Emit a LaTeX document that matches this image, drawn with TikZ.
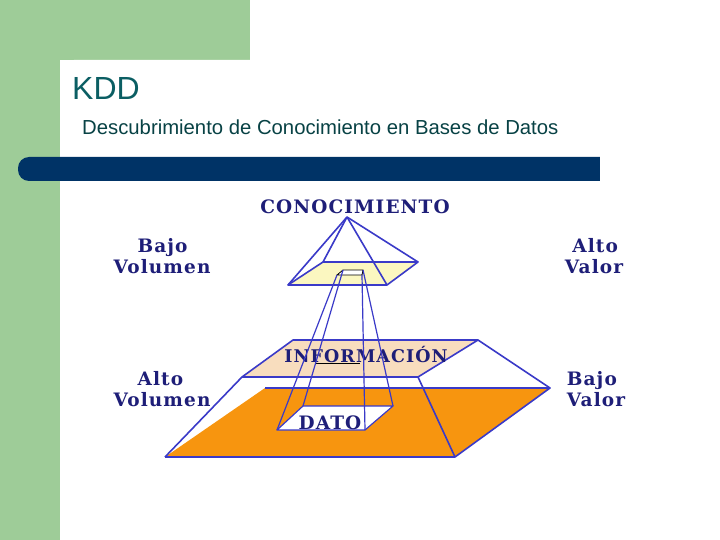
\documentclass[tikz,border=0pt]{standalone}
\usepackage{fontspec}
\setmainfont{Liberation Serif}
\newfontfamily\arialfont{Liberation Sans}
\newfontfamily\labelfont[LetterSpace=6]{DejaVu Serif}
\definecolor{slidegreen}{HTML}{9ECC98}
\definecolor{barblue}{HTML}{003366}
\definecolor{titleteal}{HTML}{0B5E63}
\definecolor{edgeblue}{HTML}{3A3AC8}
\definecolor{labelnavy}{HTML}{1E1E78}
\definecolor{infopeach}{HTML}{F8DDBE}
\definecolor{datoorange}{HTML}{F7950F}
\definecolor{topyellow}{HTML}{FBF7C0}
\tikzset{
  edge/.style={edgeblue, line width=1.6pt, line join=round},
  lbl/.style={labelnavy, font=\labelfont\bfseries\fontsize{18.5}{21}\selectfont, align=left},
  every node/.style={inner sep=0pt}
}
\begin{document}
\begin{tikzpicture}[x=1pt,y=-1pt]
    \useasboundingbox (0,0) rectangle (720,540);
    \fill[slidegreen] (0,0) rectangle (250,60);
    \fill[slidegreen] (0,0) rectangle (60,540);
    \fill[white, rounded corners=14pt] (60,60) rectangle (760,600);
    \node[titleteal, anchor=west, font=\arialfont\fontsize{32}{34}\selectfont] (kdd) at (72,88) {KDD};
    \node[titleteal!70!black, anchor=west, font=\arialfont\fontsize{20.3}{22}\selectfont] (sub) at (82,127)
      {Descubrimiento de Conocimiento en Bases de Datos};
    \fill[barblue, rounded corners=11pt] (18,157) rectangle (640,181);
    \fill[barblue] (560,157) rectangle (600,181);
    \fill[white] (600,150) rectangle (660,190);

    % lower pyramid
    \fill[datoorange] (165,457) -- (455,457) -- (550,388) -- (265,388) -- cycle;
    \fill[infopeach] (242,377) -- (418,377) -- (478,340) -- (293,340) -- cycle;
    \draw[edge] (265,388) -- (550,388);
    \draw[edge] (165,457) -- (455,457) -- (550,388) -- (478,340);
    \draw[edge] (242,377) -- (418,377) -- (478,340) -- (293,340) -- cycle;
    \draw[edge] (242,377) -- (165,457);
    \draw[edge] (418,377) -- (455,457);
    \node[lbl, font=\labelfont\bfseries\fontsize{17.5}{20}\selectfont] (info) at (366,355) {INFORMACIÓN};
    \draw[thick] (315,363) -- (360,363);
    % dato plane
    \fill[white] (277,430) -- (365,430) -- (393,406) -- (303,406) -- cycle;
    \draw[edge, line width=1.2pt] (277,430) -- (365,430) -- (393,406) -- (303,406) -- cycle;
    \node[lbl] (dato) at (330,423) {DATO};

    % upper pyramid
    \coordinate (apex) at (347,217);
    \fill[topyellow] (288,285) -- (387,285) -- (418,262) -- (323,262) -- cycle;
    \draw[edge] (288,285) -- (387,285) -- (418,262) -- (323,262) -- cycle;
    \foreach \c in {(288,285),(387,285),(418,262),(323,262)}
      \draw[edge] (apex) -- \c;
    \fill[white] (337,275) -- (362,275) -- (363,270) -- (343,270) -- cycle;
    \draw[thick] (337,275) -- (362,275) -- (363,270) -- (343,270) -- cycle;
    % rays to dato
    \draw[edge, line width=1.2pt] (337,275) -- (277,430);
    \draw[edge, line width=1.2pt] (343,270) -- (303,406);
    \draw[edge, line width=1.2pt] (363,270) -- (393,406);
    \draw[edge, line width=1.2pt] (362,275) -- (365,430);

    \node[lbl] (conoc) at (355,207) {CONOCIMIENTO};
    \node[lbl] (bvol) at (162,256) {\hspace*{1.3em}Bajo\\Volumen};
    \node[lbl] (aval) at (594,256) {\hspace*{0.4em}Alto\\Valor};
    \node[lbl] (avol) at (162,389) {\hspace*{1.3em}Alto\\Volumen};
    \node[lbl] (bval) at (596,389) {Bajo\\Valor};
\end{tikzpicture}
\end{document}
